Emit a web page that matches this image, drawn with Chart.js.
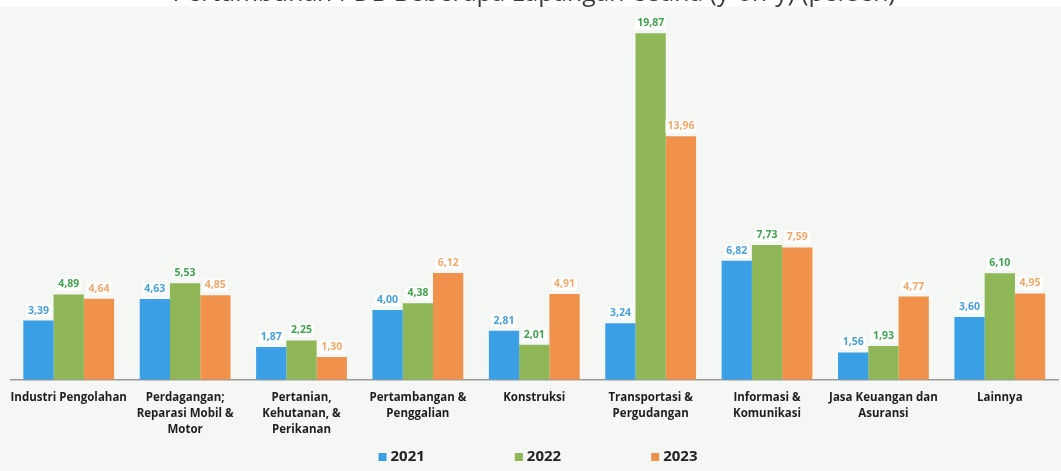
<!DOCTYPE html>
<html>
<head>
<meta charset="utf-8">
<script src="https://cdn.jsdelivr.net/npm/chart.js@4"></script>
<style>
  html, body { margin: 0; padding: 0; background: #ffffff; overflow: hidden; }
  #wrap { position: relative; width: 1061px; height: 492px; margin-top: -21px; }
  canvas { display: block; }
</style>
</head>
<body>
<div id="wrap"><canvas id="c" width="1061" height="492"></canvas></div>
<script>
// Sectors (multi-line tick labels)
const categories = [
  "Industri Pengolahan",
  ["Perdagangan;", "Reparasi Mobil &", "Motor"],
  ["Pertanian,", "Kehutanan, &", "Perikanan"],
  ["Pertambangan &", "Penggalian"],
  "Konstruksi",
  ["Transportasi &", "Pergudangan"],
  ["Informasi &", "Komunikasi"],
  ["Jasa Keuangan dan", "Asuransi"],
  "Lainnya"
];

// Year-on-year growth, percent
const growth2021 = [3.39, 4.63, 1.87, 4.00, 2.81, 3.24, 6.82, 1.56, 3.60];
const growth2022 = [4.89, 5.53, 2.25, 4.38, 2.01, 19.87, 7.73, 1.93, 6.10];
const growth2023 = [4.64, 4.85, 1.30, 6.12, 4.91, 13.96, 7.59, 4.77, 4.95];

const seriesLabels = ["2021", "2022", "2023"];
const barColors = ["#3a9fe4", "#8fb657", "#f0924c"];
const valueColors = ["#4a9fd8", "#45a052", "#efa96e"];

const FONT = "'Open Sans', 'Noto Sans', sans-serif";

// Page background: white strip behind the title, pale tint for the plot
const backgroundPlugin = {
  id: "background",
  beforeDraw(chart) {
    const ctx = chart.ctx;
    ctx.save();
    ctx.fillStyle = "#ffffff";
    ctx.fillRect(0, 0, chart.width, chart.height);
    ctx.fillStyle = "#f4f7f4";
    ctx.fillRect(0, 27.5, chart.width, chart.height - 27.5);
    ctx.restore();
  }
};

// Value labels above each bar, decimal comma
const valueLabelPlugin = {
  id: "valueLabels",
  afterDatasetsDraw(chart) {
    const ctx = chart.ctx;
    ctx.save();
    ctx.font = "bold 10.5px " + FONT;
    ctx.textAlign = "center";
    ctx.textBaseline = "middle";
    chart.data.datasets.forEach((ds, i) => {
      const meta = chart.getDatasetMeta(i);
      meta.data.forEach((bar, j) => {
        const txt = ds.data[j].toFixed(2).replace(".", ",");
        const w = ctx.measureText(txt).width;
        const y = bar.y - 10;
        ctx.fillStyle = "rgba(255,255,255,0.85)";
        ctx.fillRect(bar.x - w / 2 - 2, y - 6.5, w + 4, 13);
        ctx.fillStyle = valueColors[i];
        ctx.fillText(txt, bar.x, y);
      });
    });
    ctx.restore();
  }
};

// Legend row centred under the axis labels
const legendRowPlugin = {
  id: "legendRow",
  afterDraw(chart) {
    const ctx = chart.ctx;
    const box = 8, gapText = 4, gapItem = 90;
    ctx.save();
    ctx.font = "bold 15px " + FONT;
    ctx.textBaseline = "middle";
    ctx.textAlign = "left";
    const items = chart.data.datasets.map((ds, i) => ({
      text: ds.label,
      color: barColors[i],
      w: box + gapText + ctx.measureText(ds.label).width
    }));
    const total = items.reduce((s, it) => s + it.w, 0) + gapItem * (items.length - 1);
    let x = 538 - total / 2;
    const y = 478;
    items.forEach(it => {
      ctx.fillStyle = it.color;
      ctx.fillRect(x, y - box / 2, box, box);
      ctx.fillStyle = "#222222";
      ctx.fillText(it.text, x + box + gapText, y);
      x += it.w + gapItem;
    });
    ctx.restore();
  }
};

new Chart(document.getElementById("c"), {
  type: "bar",
  data: {
    labels: categories,
    datasets: [
      { label: seriesLabels[0], data: growth2021, backgroundColor: barColors[0] },
      { label: seriesLabels[1], data: growth2022, backgroundColor: barColors[1] },
      { label: seriesLabels[2], data: growth2023, backgroundColor: barColors[2] }
    ]
  },
  options: {
    responsive: false,
    animation: false,
    devicePixelRatio: 1,
    layout: { padding: { left: 10, right: 3, top: 0, bottom: 23 } },
    datasets: { bar: { barPercentage: 1.0, categoryPercentage: 0.78, borderWidth: 0 } },
    plugins: {
      legend: { display: false },
      tooltip: { enabled: false },
      title: {
        display: true,
        text: "Pertumbuhan PDB Beberapa Lapangan Usaha (y-on-y) (persen)",
        color: "#3a3a3a",
        font: { family: FONT, size: 24.7, weight: "normal", lineHeight: 1.2 },
        padding: { top: 0, bottom: 22.4 }
      }
    },
    scales: {
      x: {
        grid: { display: false, drawTicks: false },
        border: { display: true, color: "#9a9a9a", width: 1.5 },
        ticks: {
          color: "#1e1e1e",
          font: { family: FONT, size: 11.5, weight: "bold", lineHeight: 1.4 },
          padding: 10,
          maxRotation: 0,
          autoSkip: false
        }
      },
      y: {
        display: false,
        min: 0,
        max: 20
      }
    }
  },
  plugins: [backgroundPlugin, valueLabelPlugin, legendRowPlugin]
});
</script>
</body>
</html>
